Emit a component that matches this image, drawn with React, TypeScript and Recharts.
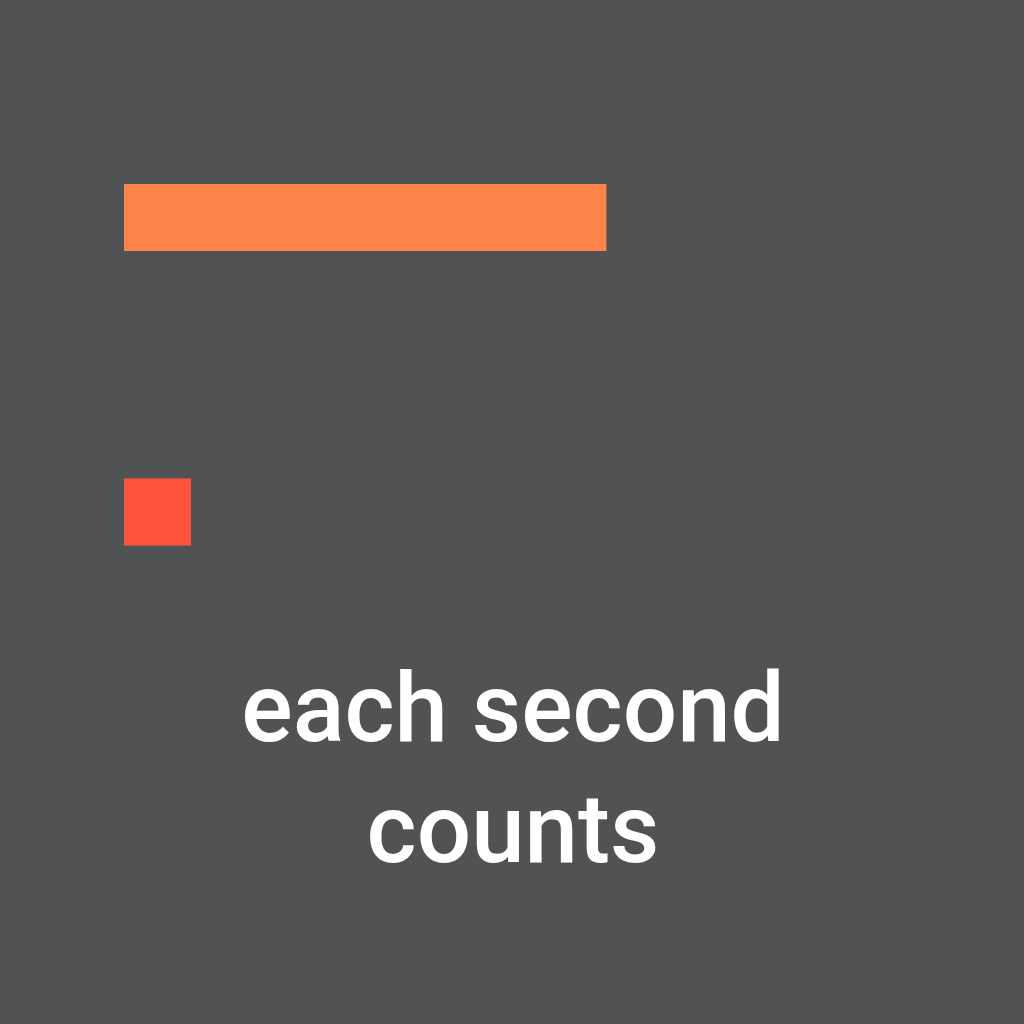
import React from 'react';
import { BarChart, Bar, XAxis, YAxis, Cell } from 'recharts';

const BG = '#515254';
const ORANGE = '#ff844b';
const RED = '#ff533d';

const categories = ['waiting', 'each second'];
const seconds = [7.2, 1];
const barColors = [ORANGE, RED];
const captionLines = ['each second', 'counts'];

const data = categories.map((name, i) => ({ name, seconds: seconds[i] }));

export default function App() {
  return (
    <div style={{ position: 'fixed', left: 0, top: 0, width: 1024, height: 1024, background: BG }}>
      <BarChart
        width={1024}
        height={1024}
        data={data}
        layout="vertical"
        margin={{ top: 70, right: 230, left: 124, bottom: 365 }}
      >
        <XAxis type="number" domain={[0, 10]} hide />
        <YAxis type="category" dataKey="name" hide />
        <Bar dataKey="seconds" barSize={67} isAnimationActive={false}>
          {data.map((_, i) => (
            <Cell key={`cell-${i}`} fill={barColors[i]} />
          ))}
        </Bar>
      </BarChart>
      <svg width={1024} height={1024} style={{ position: 'absolute', left: 0, top: 0, pointerEvents: 'none' }}>
        {captionLines.map((line, i) => (
          <text
            key={line}
            x={513}
            y={741 + i * 121}
            textAnchor="middle"
            fill="#ffffff"
            fontFamily="Roboto, 'Liberation Sans', sans-serif"
            fontWeight={500}
            fontSize={96}
          >
            {line}
          </text>
        ))}
      </svg>
    </div>
  );
}
